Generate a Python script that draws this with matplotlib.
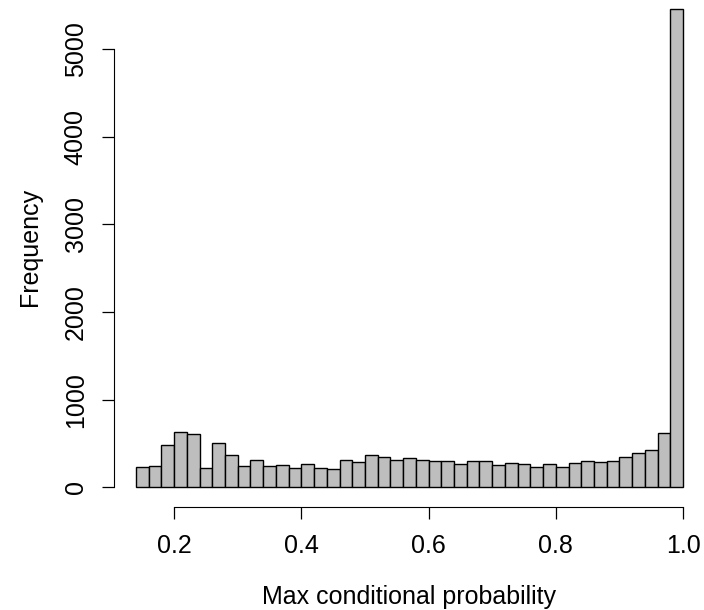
import matplotlib
matplotlib.use("Agg")
import matplotlib.pyplot as plt
import numpy as np

plt.rcParams['font.family'] = ['Liberation Sans', 'DejaVu Sans']

bin_start = 0.14
bin_width = 0.02
counts = [228, 247, 479, 635, 608, 220, 502, 369, 247, 308, 240, 251, 224, 266, 220,
          213, 316, 285, 365, 350, 316, 338, 308, 296, 296, 266, 296, 296, 251, 274,
          270, 228, 270, 236, 274, 304, 289, 296, 342, 388, 429, 616, 5450]
xticks = [0.2, 0.4, 0.6, 0.8, 1.0]
xtick_labels = ["0.2", "0.4", "0.6", "0.8", "1.0"]
yticks = [0, 1000, 2000, 3000, 4000, 5000]
ytick_labels = ["0", "1000", "2000", "3000", "4000", "5000"]

W, H = 704, 610
fig = plt.figure(figsize=(W / 100, H / 100), dpi=100)
left_px, right_px, bottom_px, top_px = 114, 705, 507.2, 0
ax = fig.add_axes([left_px / W, (H - bottom_px) / H, (right_px - left_px) / W, (bottom_px - top_px) / H])

lefts = bin_start + bin_width * np.arange(len(counts))
ax.bar(lefts, counts, width=bin_width, align='edge', color='#BEBEBE', edgecolor='black', linewidth=1.0)

ax.set_xlim(0.1056, 1.0344)
ax.set_ylim(-227, 5557)

for s in ['top', 'right']:
    ax.spines[s].set_visible(False)
ax.spines['left'].set_bounds(0, 5000)
ax.spines['bottom'].set_bounds(0.2, 1.0)

ax.set_xticks(xticks)
ax.set_xticklabels(xtick_labels)
ax.set_yticks(yticks)
ax.set_yticklabels(ytick_labels, rotation=90, va='center')
ax.tick_params(axis='both', length=8.9, width=0.9, labelsize=18)
ax.tick_params(axis='y', pad=10)
ax.tick_params(axis='x', pad=10.5)

ax.set_xlabel("Max conditional probability", fontsize=18, labelpad=19)
ax.set_ylabel("Frequency", fontsize=18)
ax.yaxis.set_label_coords((42 - left_px) / (right_px - left_px), (bottom_px - 246.5) / (bottom_px - top_px))

fig.savefig("out.png", dpi=100)
